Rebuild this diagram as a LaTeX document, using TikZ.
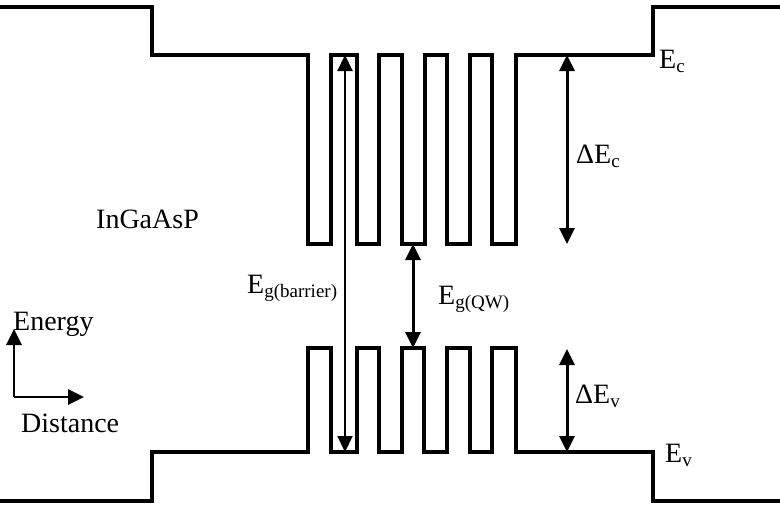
\documentclass[tikz,border=0pt]{standalone}
\usepackage{fontspec}
\setmainfont{Liberation Serif}
\usetikzlibrary{arrows.meta}
\newcommand\lowsub[1]{\raisebox{-0.17em}{\fontsize{19}{20}\selectfont #1}}
\begin{document}
\begin{tikzpicture}[x=1pt,y=-1pt,
  band/.style={line width=3.2pt, line join=miter},
  lbl/.style={anchor=base west, inner sep=0pt, font=\fontsize{28}{32}\selectfont},
  dbl/.style={line width=3pt, {Triangle[width=15pt,length=16pt]}-{Triangle[width=15pt,length=16pt]}},
  thindbl/.style={line width=2.2pt, {Triangle[width=15pt,length=16pt]}-{Triangle[width=15pt,length=16pt]}},
  axis/.style={line width=2.7pt, -{Triangle[width=15pt,length=16pt]}}]
\useasboundingbox (0,0) rectangle (780,506);
% conduction band
\draw[band] (0,7) -- (152,7) -- (152,55) -- (308,55)
  -- (308,244) -- (331,244) -- (331,55) -- (357,55)
  -- (357,244) -- (379,244) -- (379,55) -- (402,55)
  -- (402,244) -- (425,244) -- (425,55) -- (447,55)
  -- (447,244) -- (470,244) -- (470,55) -- (492,55)
  -- (492,244) -- (516,244) -- (516,55) -- (653,55)
  -- (653,7) -- (780,7);
% valence band
\draw[band] (0,501) -- (152,501) -- (152,452) -- (308,452)
  -- (308,348) -- (331,348) -- (331,452) -- (357,452)
  -- (357,348) -- (379,348) -- (379,452) -- (402,452)
  -- (402,348) -- (424,348) -- (424,452) -- (447,452)
  -- (447,348) -- (470,348) -- (470,452) -- (492,452)
  -- (492,348) -- (516,348) -- (516,452) -- (653,452)
  -- (653,501) -- (780,501);
% arrow end points
\coordinate (bTop) at (345,55);
\coordinate (bBot) at (345,452);
\coordinate (qTop) at (413,244);
\coordinate (qBot) at (413,348);
\coordinate (cTop) at (567,55);
\coordinate (cBot) at (567,244);
\coordinate (vTop) at (567,349);
\coordinate (vBot) at (567,452);
\coordinate (origin) at (14,397);
\coordinate (eTip) at (14,329);
\coordinate (dTip) at (84,397);
\draw[thindbl] (bBot) -- (bTop);
\draw[dbl] (qBot) -- (qTop);
\draw[dbl] (cBot) -- (cTop);
\draw[dbl] (vBot) -- (vTop);
\draw[axis] (origin) -- (eTip);
\draw[axis] (origin) -- (dTip);
% labels
\node[lbl] (ec) at (659,68) {E\lowsub{c}};
\node[lbl] (ev) at (665,462) {E\lowsub{v}};
\node[lbl] (dec) at (576,163) {ΔE\lowsub{c}};
\node[lbl] (dev) at (575,403) {ΔE\lowsub{v}};
\node[lbl] (egb) at (247,293) {E\lowsub{g(barrier)}};
\node[lbl] (egq) at (438,304) {E\lowsub{g(QW)}};
\node[lbl] (mat) at (96,228) {InGaAsP};
\node[lbl] (en) at (13,330) {Energy};
\node[lbl] (di) at (21,432) {Distance};
\end{tikzpicture}
\end{document}
